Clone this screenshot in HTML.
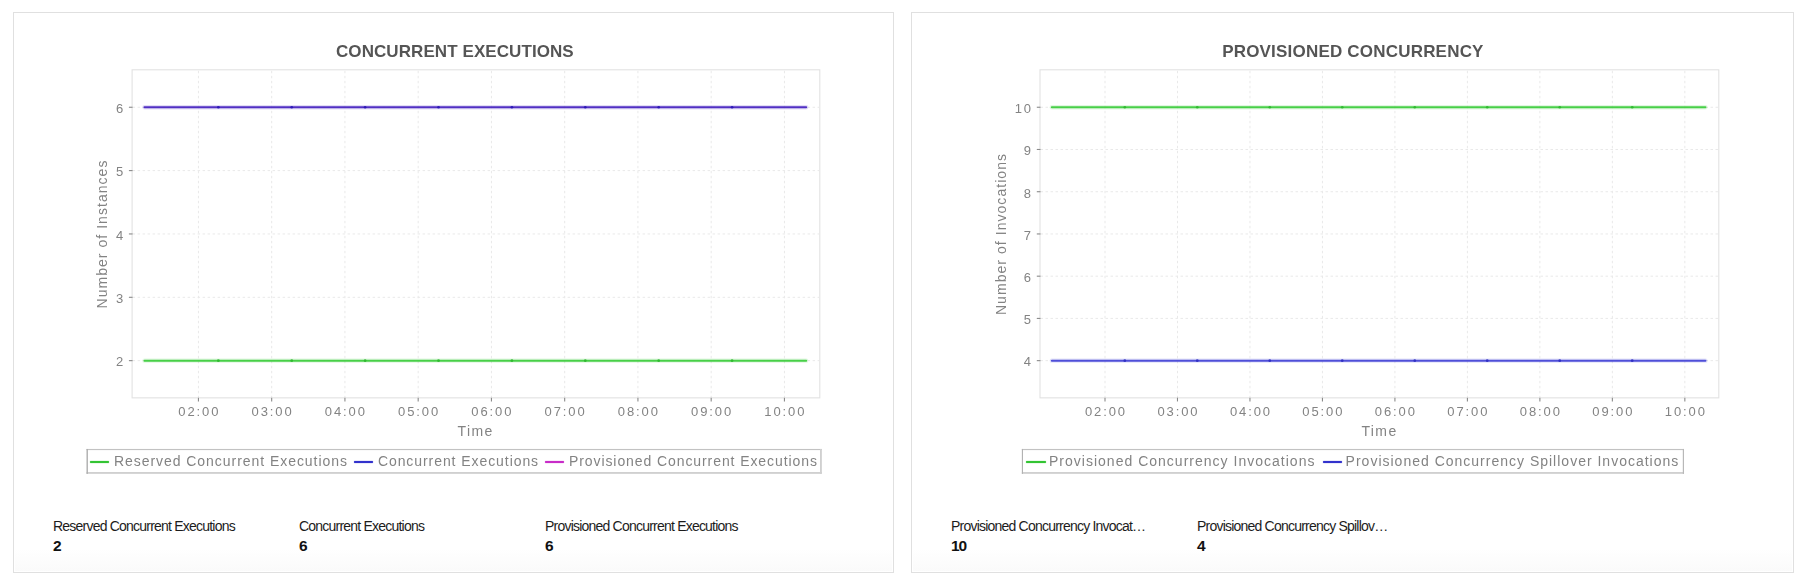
<!DOCTYPE html>
<html><head><meta charset="utf-8"><title>Charts</title>
<style>
html,body{margin:0;padding:0;background:#fff;}
body{width:1803px;height:585px;position:relative;overflow:hidden;font-family:"Liberation Sans",sans-serif;}
.panel{position:absolute;top:12px;height:559px;border:1px solid #e0e0e0;
  background:linear-gradient(to bottom,#fff 0,#fff 536px,#fafafa 100%);box-shadow:inset 0 0 0 1px #fff;}
svg{position:absolute;left:0;top:0;}
.chart{position:absolute;left:0;top:0;width:1803px;height:585px;filter:blur(0.35px);}
.title{position:absolute;top:42.7px;height:18px;line-height:18px;font-weight:bold;font-size:17px;color:#555;text-align:center;white-space:nowrap;}
.yt,.xt{position:absolute;font-size:13px;color:#838383;letter-spacing:1.9px;white-space:nowrap;height:16px;line-height:16px;}
.yt{text-align:right;}
.xt{text-align:center;}
.al{position:absolute;font-size:14px;color:#838383;white-space:nowrap;height:16px;line-height:16px;text-align:center;}
.rot{transform:rotate(-90deg);transform-origin:center center;}
.lg{position:absolute;top:450px;height:22px;}
.lg span{position:absolute;top:2.6px;height:16px;line-height:16px;font-size:14px;color:#838383;white-space:nowrap;}
.lg i{position:absolute;top:10.65px;height:2.5px;border-radius:1.25px;background:currentColor;box-shadow:0 0 1px currentColor;}
.sl{position:absolute;top:516.6px;font-size:14px;line-height:18px;color:#1c1c1c;letter-spacing:-0.785px;white-space:nowrap;}
.sv{position:absolute;top:536.5px;font-size:15.5px;line-height:18px;color:#111;font-weight:bold;letter-spacing:-1.1px;white-space:nowrap;}
</style></head><body>
<div class="panel" style="left:13px;width:879px"></div>
<div class="panel" style="left:911px;width:881px"></div>
<div class="chart">
<svg width="1803" height="585" viewBox="0 0 1803 585">
<rect x="132.1" y="69.8" width="687.7" height="328.05" fill="#fff" stroke="#e2e2e2" stroke-width="1.1"/>
<line x1="198.43" y1="70.8" x2="198.43" y2="397.35" stroke="#e9e9e9" stroke-dasharray="2.5 2.5"/>
<line x1="198.43" y1="397.65" x2="198.43" y2="401.45" stroke="#8a8a8a" stroke-width="1.1"/>
<line x1="271.68" y1="70.8" x2="271.68" y2="397.35" stroke="#e9e9e9" stroke-dasharray="2.5 2.5"/>
<line x1="271.68" y1="397.65" x2="271.68" y2="401.45" stroke="#8a8a8a" stroke-width="1.1"/>
<line x1="344.93" y1="70.8" x2="344.93" y2="397.35" stroke="#e9e9e9" stroke-dasharray="2.5 2.5"/>
<line x1="344.93" y1="397.65" x2="344.93" y2="401.45" stroke="#8a8a8a" stroke-width="1.1"/>
<line x1="418.18" y1="70.8" x2="418.18" y2="397.35" stroke="#e9e9e9" stroke-dasharray="2.5 2.5"/>
<line x1="418.18" y1="397.65" x2="418.18" y2="401.45" stroke="#8a8a8a" stroke-width="1.1"/>
<line x1="491.43" y1="70.8" x2="491.43" y2="397.35" stroke="#e9e9e9" stroke-dasharray="2.5 2.5"/>
<line x1="491.43" y1="397.65" x2="491.43" y2="401.45" stroke="#8a8a8a" stroke-width="1.1"/>
<line x1="564.68" y1="70.8" x2="564.68" y2="397.35" stroke="#e9e9e9" stroke-dasharray="2.5 2.5"/>
<line x1="564.68" y1="397.65" x2="564.68" y2="401.45" stroke="#8a8a8a" stroke-width="1.1"/>
<line x1="637.93" y1="70.8" x2="637.93" y2="397.35" stroke="#e9e9e9" stroke-dasharray="2.5 2.5"/>
<line x1="637.93" y1="397.65" x2="637.93" y2="401.45" stroke="#8a8a8a" stroke-width="1.1"/>
<line x1="711.18" y1="70.8" x2="711.18" y2="397.35" stroke="#e9e9e9" stroke-dasharray="2.5 2.5"/>
<line x1="711.18" y1="397.65" x2="711.18" y2="401.45" stroke="#8a8a8a" stroke-width="1.1"/>
<line x1="784.43" y1="70.8" x2="784.43" y2="397.35" stroke="#e9e9e9" stroke-dasharray="2.5 2.5"/>
<line x1="784.43" y1="397.65" x2="784.43" y2="401.45" stroke="#8a8a8a" stroke-width="1.1"/>
<line x1="132.6" y1="107.25" x2="819.3" y2="107.25" stroke="#e9e9e9" stroke-dasharray="2.5 2.5"/>
<line x1="128.9" y1="107.25" x2="132.6" y2="107.25" stroke="#8a8a8a" stroke-width="1.1"/>
<line x1="132.6" y1="170.6" x2="819.3" y2="170.6" stroke="#e9e9e9" stroke-dasharray="2.5 2.5"/>
<line x1="128.9" y1="170.6" x2="132.6" y2="170.6" stroke="#8a8a8a" stroke-width="1.1"/>
<line x1="132.6" y1="233.95" x2="819.3" y2="233.95" stroke="#e9e9e9" stroke-dasharray="2.5 2.5"/>
<line x1="128.9" y1="233.95" x2="132.6" y2="233.95" stroke="#8a8a8a" stroke-width="1.1"/>
<line x1="132.6" y1="297.3" x2="819.3" y2="297.3" stroke="#e9e9e9" stroke-dasharray="2.5 2.5"/>
<line x1="128.9" y1="297.3" x2="132.6" y2="297.3" stroke="#8a8a8a" stroke-width="1.1"/>
<line x1="132.6" y1="360.65" x2="819.3" y2="360.65" stroke="#e9e9e9" stroke-dasharray="2.5 2.5"/>
<line x1="128.9" y1="360.65" x2="132.6" y2="360.65" stroke="#8a8a8a" stroke-width="1.1"/>
<line x1="144.51" y1="360.65" x2="806.17" y2="360.65" stroke="#3ccc3c" stroke-width="4.4" stroke-opacity="0.15" stroke-linecap="round"/>
<line x1="144.51" y1="360.65" x2="806.17" y2="360.65" stroke="#3ccc3c" stroke-width="2.0" stroke-opacity="0.93" stroke-linecap="round"/>
<circle cx="218.35" cy="360.65" r="1.35" fill="#2cb52c" fill-opacity="0.85"/>
<circle cx="291.74" cy="360.65" r="1.35" fill="#2cb52c" fill-opacity="0.85"/>
<circle cx="365.13" cy="360.65" r="1.35" fill="#2cb52c" fill-opacity="0.85"/>
<circle cx="438.52" cy="360.65" r="1.35" fill="#2cb52c" fill-opacity="0.85"/>
<circle cx="511.91" cy="360.65" r="1.35" fill="#2cb52c" fill-opacity="0.85"/>
<circle cx="585.3" cy="360.65" r="1.35" fill="#2cb52c" fill-opacity="0.85"/>
<circle cx="658.69" cy="360.65" r="1.35" fill="#2cb52c" fill-opacity="0.85"/>
<circle cx="732.08" cy="360.65" r="1.35" fill="#2cb52c" fill-opacity="0.85"/>
<line x1="144.51" y1="107.25" x2="806.17" y2="107.25" stroke="#4622c0" stroke-width="4.4" stroke-opacity="0.15" stroke-linecap="round"/>
<line x1="144.51" y1="107.25" x2="806.17" y2="107.25" stroke="#4622c0" stroke-width="2.0" stroke-opacity="0.93" stroke-linecap="round"/>
<circle cx="218.35" cy="107.25" r="1.35" fill="#2412b4" fill-opacity="0.85"/>
<circle cx="291.74" cy="107.25" r="1.35" fill="#2412b4" fill-opacity="0.85"/>
<circle cx="365.13" cy="107.25" r="1.35" fill="#2412b4" fill-opacity="0.85"/>
<circle cx="438.52" cy="107.25" r="1.35" fill="#2412b4" fill-opacity="0.85"/>
<circle cx="511.91" cy="107.25" r="1.35" fill="#2412b4" fill-opacity="0.85"/>
<circle cx="585.3" cy="107.25" r="1.35" fill="#2412b4" fill-opacity="0.85"/>
<circle cx="658.69" cy="107.25" r="1.35" fill="#2412b4" fill-opacity="0.85"/>
<circle cx="732.08" cy="107.25" r="1.35" fill="#2412b4" fill-opacity="0.85"/>
<rect x="1040" y="69.8" width="678.8" height="328.05" fill="#fff" stroke="#e2e2e2" stroke-width="1.1"/>
<line x1="1105" y1="70.8" x2="1105" y2="397.35" stroke="#e9e9e9" stroke-dasharray="2.5 2.5"/>
<line x1="1105" y1="397.65" x2="1105" y2="401.45" stroke="#8a8a8a" stroke-width="1.1"/>
<line x1="1177.48" y1="70.8" x2="1177.48" y2="397.35" stroke="#e9e9e9" stroke-dasharray="2.5 2.5"/>
<line x1="1177.48" y1="397.65" x2="1177.48" y2="401.45" stroke="#8a8a8a" stroke-width="1.1"/>
<line x1="1249.96" y1="70.8" x2="1249.96" y2="397.35" stroke="#e9e9e9" stroke-dasharray="2.5 2.5"/>
<line x1="1249.96" y1="397.65" x2="1249.96" y2="401.45" stroke="#8a8a8a" stroke-width="1.1"/>
<line x1="1322.44" y1="70.8" x2="1322.44" y2="397.35" stroke="#e9e9e9" stroke-dasharray="2.5 2.5"/>
<line x1="1322.44" y1="397.65" x2="1322.44" y2="401.45" stroke="#8a8a8a" stroke-width="1.1"/>
<line x1="1394.92" y1="70.8" x2="1394.92" y2="397.35" stroke="#e9e9e9" stroke-dasharray="2.5 2.5"/>
<line x1="1394.92" y1="397.65" x2="1394.92" y2="401.45" stroke="#8a8a8a" stroke-width="1.1"/>
<line x1="1467.4" y1="70.8" x2="1467.4" y2="397.35" stroke="#e9e9e9" stroke-dasharray="2.5 2.5"/>
<line x1="1467.4" y1="397.65" x2="1467.4" y2="401.45" stroke="#8a8a8a" stroke-width="1.1"/>
<line x1="1539.88" y1="70.8" x2="1539.88" y2="397.35" stroke="#e9e9e9" stroke-dasharray="2.5 2.5"/>
<line x1="1539.88" y1="397.65" x2="1539.88" y2="401.45" stroke="#8a8a8a" stroke-width="1.1"/>
<line x1="1612.36" y1="70.8" x2="1612.36" y2="397.35" stroke="#e9e9e9" stroke-dasharray="2.5 2.5"/>
<line x1="1612.36" y1="397.65" x2="1612.36" y2="401.45" stroke="#8a8a8a" stroke-width="1.1"/>
<line x1="1684.84" y1="70.8" x2="1684.84" y2="397.35" stroke="#e9e9e9" stroke-dasharray="2.5 2.5"/>
<line x1="1684.84" y1="397.65" x2="1684.84" y2="401.45" stroke="#8a8a8a" stroke-width="1.1"/>
<line x1="1040.5" y1="107.25" x2="1718.3" y2="107.25" stroke="#e9e9e9" stroke-dasharray="2.5 2.5"/>
<line x1="1036.8" y1="107.25" x2="1040.5" y2="107.25" stroke="#8a8a8a" stroke-width="1.1"/>
<line x1="1040.5" y1="149.48" x2="1718.3" y2="149.48" stroke="#e9e9e9" stroke-dasharray="2.5 2.5"/>
<line x1="1036.8" y1="149.48" x2="1040.5" y2="149.48" stroke="#8a8a8a" stroke-width="1.1"/>
<line x1="1040.5" y1="191.72" x2="1718.3" y2="191.72" stroke="#e9e9e9" stroke-dasharray="2.5 2.5"/>
<line x1="1036.8" y1="191.72" x2="1040.5" y2="191.72" stroke="#8a8a8a" stroke-width="1.1"/>
<line x1="1040.5" y1="233.95" x2="1718.3" y2="233.95" stroke="#e9e9e9" stroke-dasharray="2.5 2.5"/>
<line x1="1036.8" y1="233.95" x2="1040.5" y2="233.95" stroke="#8a8a8a" stroke-width="1.1"/>
<line x1="1040.5" y1="276.18" x2="1718.3" y2="276.18" stroke="#e9e9e9" stroke-dasharray="2.5 2.5"/>
<line x1="1036.8" y1="276.18" x2="1040.5" y2="276.18" stroke="#8a8a8a" stroke-width="1.1"/>
<line x1="1040.5" y1="318.42" x2="1718.3" y2="318.42" stroke="#e9e9e9" stroke-dasharray="2.5 2.5"/>
<line x1="1036.8" y1="318.42" x2="1040.5" y2="318.42" stroke="#8a8a8a" stroke-width="1.1"/>
<line x1="1040.5" y1="360.65" x2="1718.3" y2="360.65" stroke="#e9e9e9" stroke-dasharray="2.5 2.5"/>
<line x1="1036.8" y1="360.65" x2="1040.5" y2="360.65" stroke="#8a8a8a" stroke-width="1.1"/>
<line x1="1051.85" y1="107.25" x2="1705.41" y2="107.25" stroke="#3ccc3c" stroke-width="4.4" stroke-opacity="0.15" stroke-linecap="round"/>
<line x1="1051.85" y1="107.25" x2="1705.41" y2="107.25" stroke="#3ccc3c" stroke-width="2.0" stroke-opacity="0.93" stroke-linecap="round"/>
<circle cx="1124.79" cy="107.25" r="1.35" fill="#2cb52c" fill-opacity="0.85"/>
<circle cx="1197.28" cy="107.25" r="1.35" fill="#2cb52c" fill-opacity="0.85"/>
<circle cx="1269.77" cy="107.25" r="1.35" fill="#2cb52c" fill-opacity="0.85"/>
<circle cx="1342.26" cy="107.25" r="1.35" fill="#2cb52c" fill-opacity="0.85"/>
<circle cx="1414.75" cy="107.25" r="1.35" fill="#2cb52c" fill-opacity="0.85"/>
<circle cx="1487.24" cy="107.25" r="1.35" fill="#2cb52c" fill-opacity="0.85"/>
<circle cx="1559.73" cy="107.25" r="1.35" fill="#2cb52c" fill-opacity="0.85"/>
<circle cx="1632.22" cy="107.25" r="1.35" fill="#2cb52c" fill-opacity="0.85"/>
<line x1="1051.85" y1="360.65" x2="1705.41" y2="360.65" stroke="#4444d6" stroke-width="4.4" stroke-opacity="0.15" stroke-linecap="round"/>
<line x1="1051.85" y1="360.65" x2="1705.41" y2="360.65" stroke="#4444d6" stroke-width="2.0" stroke-opacity="0.93" stroke-linecap="round"/>
<circle cx="1124.79" cy="360.65" r="1.35" fill="#2a2ac0" fill-opacity="0.85"/>
<circle cx="1197.28" cy="360.65" r="1.35" fill="#2a2ac0" fill-opacity="0.85"/>
<circle cx="1269.77" cy="360.65" r="1.35" fill="#2a2ac0" fill-opacity="0.85"/>
<circle cx="1342.26" cy="360.65" r="1.35" fill="#2a2ac0" fill-opacity="0.85"/>
<circle cx="1414.75" cy="360.65" r="1.35" fill="#2a2ac0" fill-opacity="0.85"/>
<circle cx="1487.24" cy="360.65" r="1.35" fill="#2a2ac0" fill-opacity="0.85"/>
<circle cx="1559.73" cy="360.65" r="1.35" fill="#2a2ac0" fill-opacity="0.85"/>
<circle cx="1632.22" cy="360.65" r="1.35" fill="#2a2ac0" fill-opacity="0.85"/>
<rect x="86.5" y="448.95" width="735.35" height="24.9" fill="#fff"/>
<rect x="86.5" y="448.95" width="735.35" height="1.15" fill="#c2c2c2"/>
<rect x="86.5" y="472" width="735.35" height="1.85" fill="#d0d0d0"/>
<rect x="86.5" y="448.95" width="1.4" height="24.9" fill="#adadad"/>
<rect x="820" y="448.95" width="1.85" height="24.9" fill="#d0d0d0"/>
<rect x="1021.85" y="448.95" width="662.15" height="24.9" fill="#fff"/>
<rect x="1021.85" y="448.95" width="662.15" height="1.15" fill="#c2c2c2"/>
<rect x="1021.85" y="472" width="662.15" height="1.85" fill="#d0d0d0"/>
<rect x="1021.85" y="448.95" width="1.15" height="24.9" fill="#b2b2b2"/>
<rect x="1682.8" y="448.95" width="1.2" height="24.9" fill="#b8b8b8"/>
</svg>
<div class="title" style="left:254.9px;width:400px;letter-spacing:0.08px">CONCURRENT EXECUTIONS</div>
<div class="title" style="left:1152.9px;width:400px;letter-spacing:0.2px">PROVISIONED CONCURRENCY</div>
<div class="yt" style="left:65.1px;top:101.05px;width:60px">6</div>
<div class="yt" style="left:65.1px;top:164.4px;width:60px">5</div>
<div class="yt" style="left:65.1px;top:227.75px;width:60px">4</div>
<div class="yt" style="left:65.1px;top:291.1px;width:60px">3</div>
<div class="yt" style="left:65.1px;top:354.45px;width:60px">2</div>
<div class="xt" style="left:169.38px;top:404.35px;width:60px">02:00</div>
<div class="xt" style="left:242.63px;top:404.35px;width:60px">03:00</div>
<div class="xt" style="left:315.88px;top:404.35px;width:60px">04:00</div>
<div class="xt" style="left:389.13px;top:404.35px;width:60px">05:00</div>
<div class="xt" style="left:462.38px;top:404.35px;width:60px">06:00</div>
<div class="xt" style="left:535.63px;top:404.35px;width:60px">07:00</div>
<div class="xt" style="left:608.88px;top:404.35px;width:60px">08:00</div>
<div class="xt" style="left:682.13px;top:404.35px;width:60px">09:00</div>
<div class="xt" style="left:755.38px;top:404.35px;width:60px">10:00</div>
<div class="yt" style="left:973px;top:101.05px;width:60px">10</div>
<div class="yt" style="left:973px;top:143.28px;width:60px">9</div>
<div class="yt" style="left:973px;top:185.52px;width:60px">8</div>
<div class="yt" style="left:973px;top:227.75px;width:60px">7</div>
<div class="yt" style="left:973px;top:269.98px;width:60px">6</div>
<div class="yt" style="left:973px;top:312.22px;width:60px">5</div>
<div class="yt" style="left:973px;top:354.45px;width:60px">4</div>
<div class="xt" style="left:1075.95px;top:404.35px;width:60px">02:00</div>
<div class="xt" style="left:1148.43px;top:404.35px;width:60px">03:00</div>
<div class="xt" style="left:1220.91px;top:404.35px;width:60px">04:00</div>
<div class="xt" style="left:1293.39px;top:404.35px;width:60px">05:00</div>
<div class="xt" style="left:1365.87px;top:404.35px;width:60px">06:00</div>
<div class="xt" style="left:1438.35px;top:404.35px;width:60px">07:00</div>
<div class="xt" style="left:1510.83px;top:404.35px;width:60px">08:00</div>
<div class="xt" style="left:1583.31px;top:404.35px;width:60px">09:00</div>
<div class="xt" style="left:1655.79px;top:404.35px;width:60px">10:00</div>
<div class="al" style="left:425.6px;top:422.8px;width:100px;letter-spacing:1.4px">Time</div>
<div class="al" style="left:1329.5px;top:423.1px;width:100px;letter-spacing:1.4px">Time</div>
<div class="al rot" style="left:1.5px;top:226.4px;width:200px;letter-spacing:1.04px">Number of Instances</div>
<div class="al rot" style="left:901px;top:225.6px;width:200px;letter-spacing:1.05px">Number of Invocations</div>
<div class="lg" style="left:87.7px;width:732.8px">
 <i style="left:2.1px;width:19.6px;color:#33c433"></i><span style="left:26.2px;letter-spacing:0.955px">Reserved Concurrent Executions</span>
 <i style="left:265.9px;width:19.6px;color:#3232cc"></i><span style="left:290.2px;letter-spacing:0.93px">Concurrent Executions</span>
 <i style="left:457.3px;width:19.3px;color:#c82cc8"></i><span style="left:481.3px;letter-spacing:0.914px">Provisioned Concurrent Executions</span>
</div>
<div class="lg" style="left:1022.8px;width:660.6px">
 <i style="left:3.5px;width:19.7px;color:#33c433"></i><span style="left:26.2px;letter-spacing:1.01px">Provisioned Concurrency Invocations</span>
 <i style="left:299.8px;width:19.6px;color:#3232cc"></i><span style="left:322.8px;letter-spacing:1.0px">Provisioned Concurrency Spillover Invocations</span>
</div>
</div>
<div class="sl" style="left:53px">Reserved Concurrent Executions</div><div class="sv" style="left:53px">2</div>
<div class="sl" style="left:299px">Concurrent Executions</div><div class="sv" style="left:299px">6</div>
<div class="sl" style="left:545px">Provisioned Concurrent Executions</div><div class="sv" style="left:545px">6</div>
<div class="sl" style="left:951px">Provisioned Concurrency Invocat…</div><div class="sv" style="left:951px">10</div>
<div class="sl" style="left:1197px">Provisioned Concurrency Spillov…</div><div class="sv" style="left:1197px">4</div>
</body></html>
